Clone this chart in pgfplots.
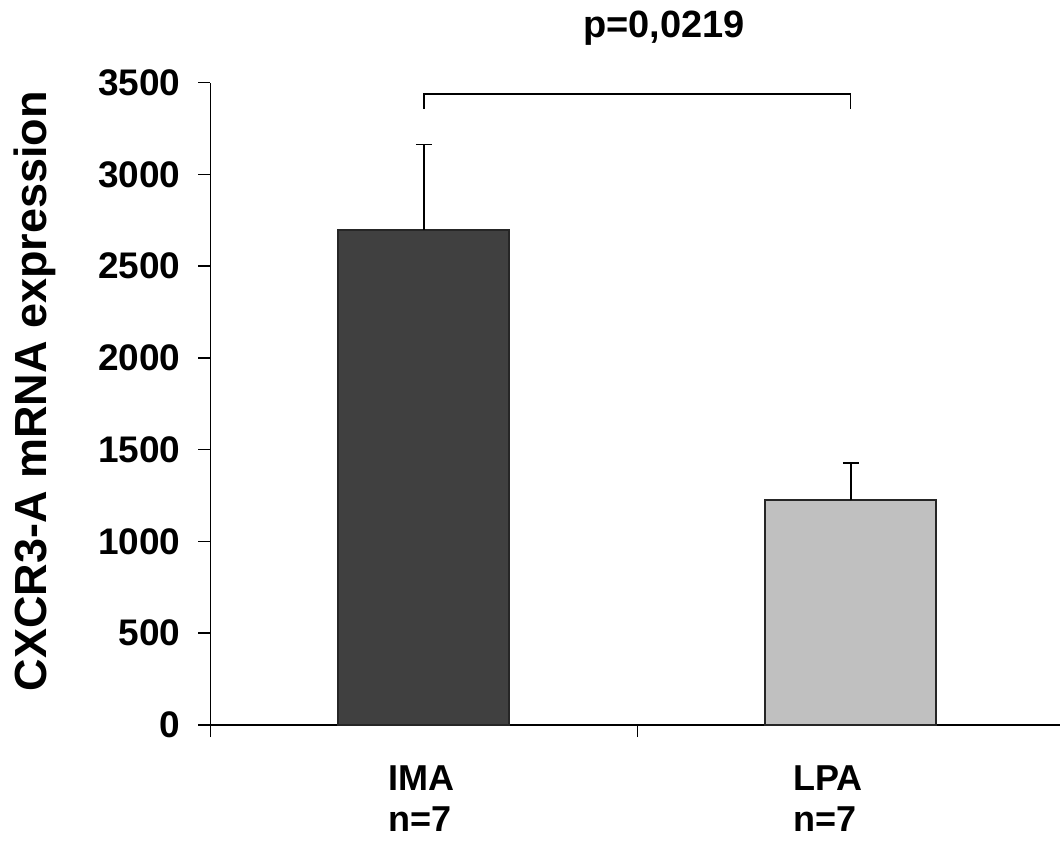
\documentclass[border=0pt]{standalone}
\usepackage{pgfplots}
\pgfplotsset{compat=1.18}
\usepackage{fontspec}
\setmainfont{Liberation Sans}
\definecolor{darkbar}{HTML}{404040}
\definecolor{lightbar}{HTML}{C0C0C0}
\begin{document}
\begin{tikzpicture}
\begin{axis}[
  at={(0,0)}, anchor=south west,
  scale only axis,
  width=424.75pt, height=321.15pt,
  xmin=-0.5, xmax=1.49,
  ymin=0, ymax=3500,
  axis lines*=left,
  axis line style={line width=0.75pt},
  tick style={line width=0.75pt, black},
  tick align=outside,
  major tick length=6pt,
  xtick={-0.5,0.5,1.5},
  xticklabels={},
  ytick={0,500,1000,1500,2000,2500,3000,3500},
  /pgf/number format/assume math mode=true,
  /pgf/number format/1000 sep={},
  yticklabel style={font=\fontsize{18.5}{22}\selectfont\bfseries, xshift=-5.5pt},
  ylabel={CXCR3-A mRNA expression},
  ylabel style={font=\fontsize{22.5}{26}\selectfont\bfseries, at={(axis description cs:-0.1925,0.52)}, anchor=base, rotate=0},
  ybar, bar width=85.5pt, bar shift=0pt,
  clip=false,
]
\addplot[fill=darkbar, draw=black!85, line width=1pt,
  error bars/.cd, y dir=plus, y explicit,
  error bar style={line width=0.75pt, black},
  error mark options={rotate=90, mark size=4pt, line width=0.75pt, black}]
  coordinates {(0,2700) +- (0,462)};
\addplot[fill=lightbar, draw=black!85, line width=1pt,
  error bars/.cd, y dir=plus, y explicit,
  error bar style={line width=0.75pt, black},
  error mark options={rotate=90, mark size=4pt, line width=0.75pt, black}]
  coordinates {(1,1224) +- (0,204)};
\draw[line width=0.6pt] (axis cs:0,3357) -- (axis cs:0,3439) -- (axis cs:1,3439) -- (axis cs:1,3357);
\node[anchor=base, font=\fontsize{19}{22}\selectfont\bfseries] at (axis cs:0.562,3749) {p=0,0219};
\node[anchor=north west, inner sep=0pt, align=left, font=\fontsize{18}{20.5}\selectfont\bfseries] at (axis cs:-0.0845,-218) {IMA\\n=7};
\node[anchor=north west, inner sep=0pt, align=left, font=\fontsize{18}{20.5}\selectfont\bfseries] at (axis cs:0.864,-218) {LPA\\n=7};
\end{axis}
\pgfresetboundingbox
\path[use as bounding box] (-105.25pt,-58pt) rectangle (424.75pt,362.5pt);
\end{tikzpicture}
\end{document}
